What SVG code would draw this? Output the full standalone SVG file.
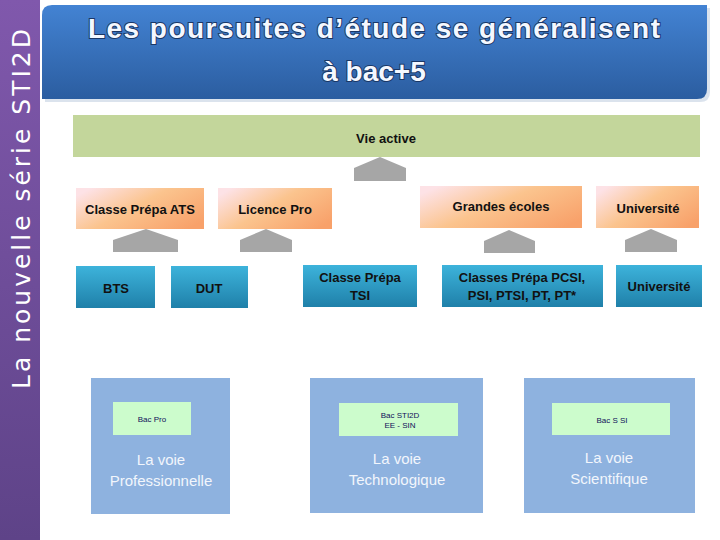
<svg xmlns="http://www.w3.org/2000/svg" width="720" height="540" viewBox="0 0 720 540">
  <defs>
    <linearGradient id="gPurple" x1="0" y1="0" x2="0" y2="1">
      <stop offset="0" stop-color="#8058AC"/>
      <stop offset="1" stop-color="#5E4388"/>
    </linearGradient>
    <linearGradient id="gTitle" x1="0" y1="0" x2="0" y2="1">
      <stop offset="0" stop-color="#4383D3"/>
      <stop offset="1" stop-color="#2B5DA0"/>
    </linearGradient>
    <linearGradient id="gOrange" x1="0" y1="0.2" x2="1" y2="0.8">
      <stop offset="0" stop-color="#FDE2E6"/>
      <stop offset="0.45" stop-color="#FBC48E"/>
      <stop offset="1" stop-color="#F8A16A"/>
    </linearGradient>
    <linearGradient id="gBlue" x1="0" y1="0" x2="0" y2="1">
      <stop offset="0" stop-color="#3DB3DB"/>
      <stop offset="1" stop-color="#1F80A9"/>
    </linearGradient>
    <style>
      .orange { fill: url(#gOrange); }
      .blue { fill: url(#gBlue); }
      .voie { fill: #8EB2DF; }
      .bac { fill: #CCFCCC; }
      .arrow { fill: #A6A6A6; }
      .lbl { font-family: "Liberation Sans", Arial, sans-serif; font-weight: bold; font-size: 13px; fill: #111111; text-anchor: middle; }
      .small { font-family: "Liberation Sans", Arial, sans-serif; font-size: 8px; fill: #10105A; text-anchor: middle; }
      .voietxt { font-family: "Liberation Sans", Arial, sans-serif; font-size: 15px; fill: #F2F6FC; text-anchor: middle; }
      .title { font-family: "Liberation Sans", Arial, sans-serif; font-weight: bold; font-size: 28px; fill: #F4F8FF; stroke: #1A3766; stroke-width: 2; paint-order: stroke; text-anchor: middle; }
    </style>
  </defs>

  <rect width="720" height="540" fill="#FFFFFF"/>

  <g id="sidebar">
    <rect x="0" y="0" width="40" height="540" fill="url(#gPurple)"/>
    <text transform="translate(30,209) rotate(-90)" font-family="DejaVu Sans, sans-serif" font-size="25" fill="#FFFFFF" text-anchor="middle" textLength="360" lengthAdjust="spacing">La nouvelle série STI2D</text>
  </g>

  <g id="title">
    <path d="M45,8 H710 V92 Q710,102 700,102 H45 Z" fill="#B8C8DC" opacity="0.5"/>
    <path d="M52,5 H707 V89 Q707,99 697,99 H42 V15 Q42,5 52,5 Z" fill="url(#gTitle)"/>
    <text class="title" x="374" y="38" textLength="572">Les poursuites d’étude se généralisent</text>
    <text class="title" x="374" y="81">à bac+5</text>
  </g>

  <g id="vie-active">
    <rect x="73" y="115" width="627" height="42" fill="#C3D69B"/>
    <text class="lbl" x="386" y="143" font-size="15">Vie active</text>
  </g>

  <g id="classe-prepa-ats">
    <rect class="orange" x="76" y="188" width="128" height="41"/>
    <text class="lbl" x="140" y="214">Classe Prépa ATS</text>
  </g>
  <g id="licence-pro">
    <rect class="orange" x="218" y="188" width="114" height="41"/>
    <text class="lbl" x="275" y="214">Licence Pro</text>
  </g>
  <g id="grandes-ecoles">
    <rect class="orange" x="420" y="186" width="162" height="42"/>
    <text class="lbl" x="501" y="211">Grandes écoles</text>
  </g>
  <g id="universite-top">
    <rect class="orange" x="596" y="186" width="103" height="42"/>
    <text class="lbl" x="648" y="213">Université</text>
  </g>

  <g id="bts">
    <rect class="blue" x="76" y="266" width="79" height="42"/>
    <text class="lbl" x="116" y="293" font-size="14">BTS</text>
  </g>
  <g id="dut">
    <rect class="blue" x="171" y="266" width="77" height="42"/>
    <text class="lbl" x="209" y="293" font-size="14">DUT</text>
  </g>
  <g id="classe-prepa-tsi">
    <rect class="blue" x="303" y="265" width="114" height="42"/>
    <text class="lbl" x="360" y="282">Classe Prépa</text>
    <text class="lbl" x="360" y="300">TSI</text>
  </g>
  <g id="classes-prepa-pcsi">
    <rect class="blue" x="442" y="265" width="161" height="42"/>
    <text class="lbl" x="522" y="282">Classes Prépa PCSI,</text>
    <text class="lbl" x="522" y="300">PSI, PTSI, PT, PT*</text>
  </g>
  <g id="universite-bottom">
    <rect class="blue" x="616" y="265" width="86" height="42"/>
    <text class="lbl" x="659" y="291">Université</text>
  </g>

  <g id="voie-pro">
    <rect class="voie" x="91" y="378" width="139" height="136"/>
    <rect class="bac" x="113" y="402" width="78" height="33"/>
    <text class="small" x="152" y="422">Bac Pro</text>
    <text class="voietxt" x="161" y="465">La voie</text>
    <text class="voietxt" x="161" y="486">Professionnelle</text>
  </g>
  <g id="voie-techno">
    <rect class="voie" x="310" y="378" width="173" height="135"/>
    <rect class="bac" x="339" y="403" width="119" height="33"/>
    <text class="small" x="400" y="418">Bac STI2D</text>
    <text class="small" x="400" y="428" font-size="7">EE - SIN</text>
    <text class="voietxt" x="397" y="464">La voie</text>
    <text class="voietxt" x="397" y="485">Technologique</text>
  </g>
  <g id="voie-sci">
    <rect class="voie" x="524" y="378" width="171" height="135"/>
    <rect class="bac" x="552" y="403" width="118" height="32"/>
    <text class="small" x="612" y="423">Bac S  SI</text>
    <text class="voietxt" x="609" y="463">La voie</text>
    <text class="voietxt" x="609" y="484">Scientifique</text>
  </g>

  <g id="connectors">
    <polygon class="arrow" points="380,157 406,168 406,181 354,181 354,168"/>
    <polygon class="arrow" points="146,229 178,240 178,252 113,252 113,240"/>
    <polygon class="arrow" points="266,229 292,240 292,252 240,252 240,240"/>
    <polygon class="arrow" points="509,230 535,241 535,253 484,253 484,241"/>
    <polygon class="arrow" points="651,229 677,240 677,252 625,252 625,240"/>
  </g>
</svg>
